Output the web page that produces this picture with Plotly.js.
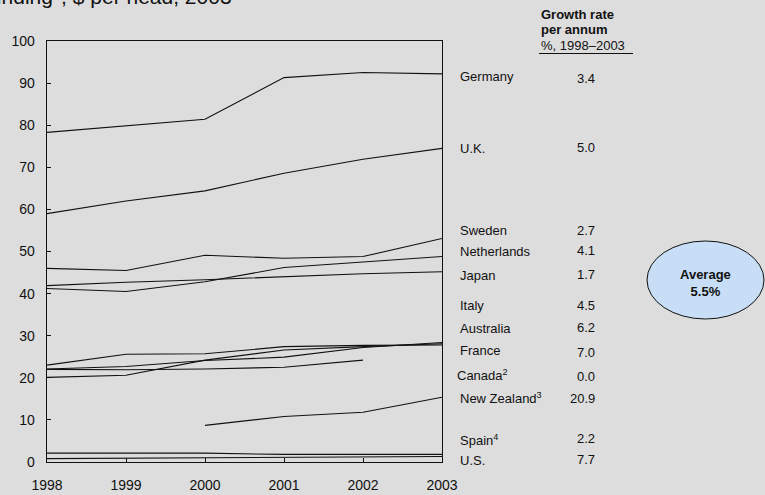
<!DOCTYPE html>
<html>
<head>
<meta charset="utf-8">
<script src="https://cdn.plot.ly/plotly-3.0.1.min.js"></script>
<style>
  html, body { margin: 0; padding: 0; background: #dddddd; }
  #chart { width: 765px; height: 495px; }
</style>
</head>
<body>
<div id="chart"></div>
<script>
// Funding per head by country, 1998-2003
const years = [1998, 1999, 2000, 2001, 2002, 2003];

const germany     = [78.3, 79.8, 81.4, 91.3, 92.5, 92.2];
const uk          = [59.0, 62.0, 64.4, 68.6, 71.9, 74.5];
const sweden      = [46.0, 45.5, 49.1, 48.4, 48.8, 53.1];
const netherlands = [41.2, 40.5, 42.8, 46.2, 47.5, 48.8];
const japan       = [41.9, 42.7, 43.3, 44.0, 44.7, 45.2];
const italy       = [22.1, 22.7, 24.1, 24.9, 27.2, 28.4];
const australia   = [23.0, 25.6, 25.7, 27.4, 27.7, 27.8];
const france      = [20.1, 20.6, 24.2, 26.6, 27.4, 28.1];
const canada      = [22.0, 21.9, 22.1, 22.5, 24.2, null];
const newZealand  = [null, null, 8.7, 10.8, 11.8, 15.4];
const spain       = [2.1, 2.1, 2.1, 1.8, 1.8, 1.8];
const us          = [0.8, 0.9, 1.0, 1.1, 1.2, 1.3];

// Country names and growth rate per annum (%, 1998-2003) shown at the right
const countryLabels = ['Germany', 'U.K.', 'Sweden', 'Netherlands', 'Japan', 'Italy',
  'Australia', 'France', 'Canada<sup>2</sup>', 'New Zealand<sup>3</sup>',
  'Spain<sup>4</sup>', 'U.S.'];
const growthRates = ['3.4', '5.0', '2.7', '4.1', '1.7', '4.5', '6.2', '7.0',
  '0.0', '20.9', '2.2', '7.7'];
const averageGrowth = '5.5%';

const yTicks = [0, 10, 20, 30, 40, 50, 60, 70, 80, 90, 100];

// ---- layout geometry (pixels) ----
const W = 765, H = 495;
const M = { l: 47, r: 323, t: 41, b: 33 };
const PW = W - M.l - M.r, PH = H - M.t - M.b;
const px = x => (x - M.l) / PW;          // pixel -> paper x
const py = y => (H - M.b - y) / PH;      // pixel -> paper y

const labelRowY = [76, 148, 230, 251, 275, 305.5, 328.5, 350.5, 375, 398, 439.5, 460.5];
const valueRowY = [79, 147, 230, 250, 274, 305, 327.7, 352.3, 376.7, 398, 438.3, 459.3];
const labelRowX = [457.5, 457.5, 457.5, 457.5, 457.5, 457.5, 457.5, 457.5, 455, 457.5, 458, 457.5];

const FONT = 'Liberation Sans, Arial, sans-serif';

const series = [germany, uk, sweden, netherlands, japan, italy, australia,
  france, canada, newZealand, spain, us];
const names = ['Germany', 'U.K.', 'Sweden', 'Netherlands', 'Japan', 'Italy',
  'Australia', 'France', 'Canada', 'New Zealand', 'Spain', 'U.S.'];

const traces = series.map((vals, i) => ({
  type: 'scatter',
  mode: 'lines',
  x: years,
  y: vals,
  name: names[i],
  connectgaps: false,
  line: { color: '#111111', width: 1.1 },
  hoverinfo: 'x+y+name'
}));

const annotations = [];

// heading, running off the top edge of the page
annotations.push({
  xref: 'paper', yref: 'paper',
  x: px(234), y: py(-5),
  xanchor: 'right', yanchor: 'middle',
  text: 'Public funding<sup>1</sup>, $ per head, 2003',
  showarrow: false,
  font: { family: FONT, size: 21, color: '#111111' }
});

// column header
annotations.push({
  xref: 'paper', yref: 'paper', x: px(539), y: py(14),
  xanchor: 'left', yanchor: 'middle', showarrow: false,
  text: '<b>Growth rate</b>', font: { family: FONT, size: 13, color: '#111111' }
});
annotations.push({
  xref: 'paper', yref: 'paper', x: px(539), y: py(29.5),
  xanchor: 'left', yanchor: 'middle', showarrow: false,
  text: '<b>per annum</b>', font: { family: FONT, size: 13, color: '#111111' }
});
annotations.push({
  xref: 'paper', yref: 'paper', x: px(539), y: py(45),
  xanchor: 'left', yanchor: 'middle', showarrow: false,
  text: '%, 1998–2003', font: { family: FONT, size: 13, color: '#111111' }
});

countryLabels.forEach((lab, i) => {
  annotations.push({
    xref: 'paper', yref: 'paper', x: px(labelRowX[i]), y: py(labelRowY[i]),
    xanchor: 'left', yanchor: 'middle', showarrow: false,
    text: lab, font: { family: FONT, size: 13, color: '#111111' }
  });
  annotations.push({
    xref: 'paper', yref: 'paper', x: px(597), y: py(valueRowY[i]),
    xanchor: 'right', yanchor: 'middle', showarrow: false,
    text: growthRates[i], font: { family: FONT, size: 13, color: '#111111' }
  });
});

// average bubble text
annotations.push({
  xref: 'paper', yref: 'paper', x: px(705), y: py(283),
  xanchor: 'center', yanchor: 'middle', showarrow: false,
  text: '<b>Average</b><br><b>' + averageGrowth + '</b>',
  font: { family: FONT, size: 13, color: '#111111' }
});

const shapes = [
  // header underline
  { type: 'line', xref: 'paper', yref: 'paper',
    x0: px(539), x1: px(633), y0: py(53.5), y1: py(53.5),
    line: { color: '#111111', width: 1 } },
  // average bubble
  { type: 'circle', xref: 'paper', yref: 'paper',
    x0: px(647), x1: px(764), y0: py(319), y1: py(241),
    fillcolor: '#c8def7', line: { color: '#111111', width: 1 } }
];

const layout = {
  width: W, height: H,
  margin: M,
  paper_bgcolor: '#dddddd',
  plot_bgcolor: '#dddddd',
  showlegend: false,
  font: { family: FONT, size: 14, color: '#111111' },
  xaxis: {
    range: [1998, 2003],
    tickvals: years,
    ticktext: years.map(String),
    ticks: 'inside', ticklen: 4, tickcolor: '#111111', tickwidth: 1,
    showline: true, linecolor: '#111111', linewidth: 1.3, mirror: true,
    showgrid: false, zeroline: false,
    ticklabelstandoff: 10,
    tickfont: { family: FONT, size: 14, color: '#111111' }
  },
  yaxis: {
    range: [0, 100],
    tickvals: yTicks,
    ticks: 'inside', ticklen: 4, tickcolor: '#111111', tickwidth: 1,
    showline: true, linecolor: '#111111', linewidth: 1.3, mirror: true,
    showgrid: false, zeroline: false,
    ticklabelstandoff: 8,
    tickfont: { family: FONT, size: 14, color: '#111111' }
  },
  annotations: annotations,
  shapes: shapes
};

Plotly.newPlot('chart', traces, layout, { displayModeBar: false, staticPlot: true });
</script>
</body>
</html>
